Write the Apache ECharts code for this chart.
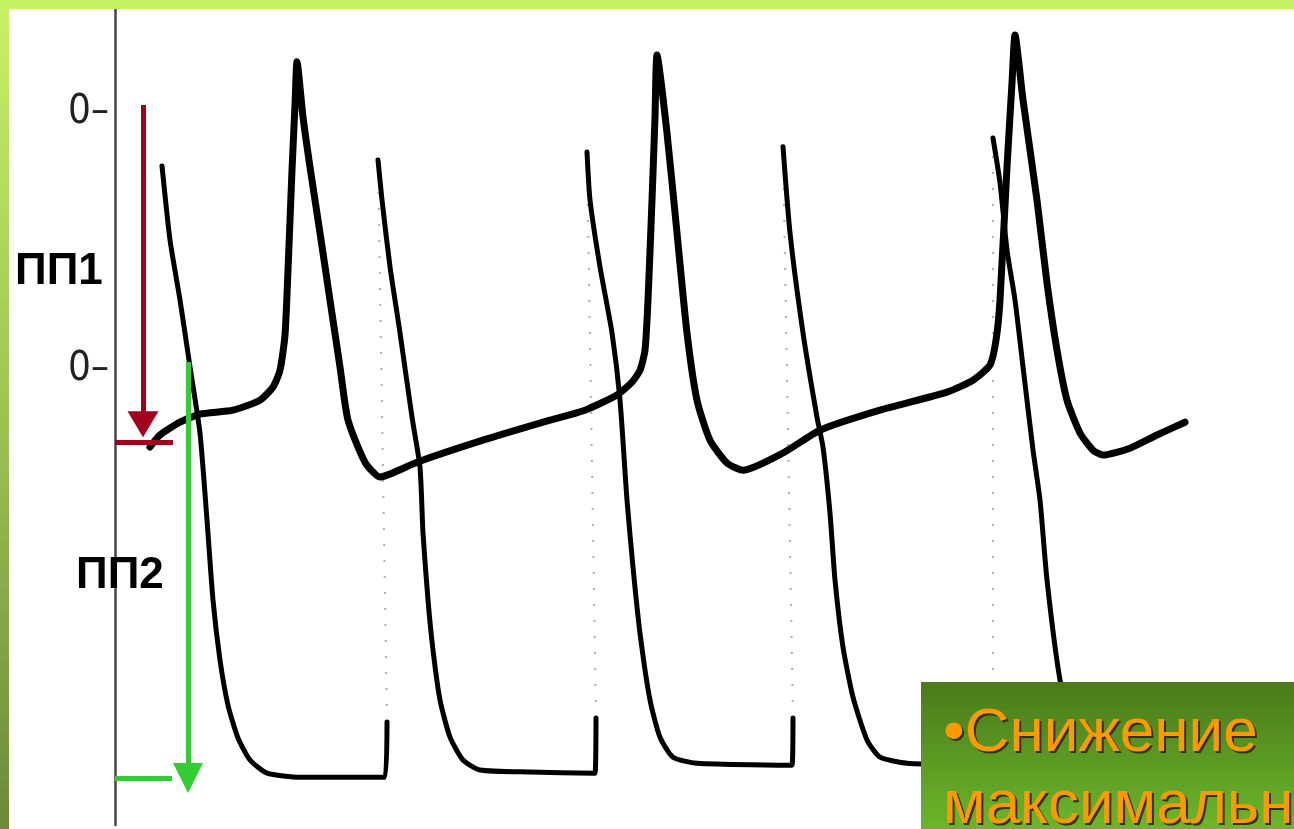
<!DOCTYPE html>
<html>
<head>
<meta charset="utf-8">
<style>
  html, body { margin: 0; padding: 0; background: #fff; }
  #chart { width: 1294px; height: 829px; }
</style>
<script src="https://cdn.jsdelivr.net/npm/echarts@6/dist/echarts.min.js"></script>
</head>
<body>
<div id="chart"></div>
<script>
// x: time (arbitrary units), y: potential, mV (each trace has its own zero)
// trace 1 - upper recording (ПП1)
const trace1 = [
  [35, -83.5], [45, -80.5], [65, -77.3], [85, -75.3], [118, -74.3], [145, -71.8],
  [158, -68.5], [165, -64.3], [170, -55.5], [173, -39.3], [177, -14.3], [180, 2],
  [182, 12.8], [188, -1], [195, -13.5], [205, -30], [215, -46.8], [225, -63.5],
  [233, -76.8], [250, -87.3], [265, -91], [302, -87.3], [368, -81.8], [435, -76.8],
  [470, -74.3], [502, -70.5], [517, -67.3], [525, -64.3], [530, -59.3], [533, -46.8],
  [537, -21.8], [540, -1], [542, 14.5], [552, -5], [562, -30], [572, -55],
  [582, -71.8], [595, -81.8], [612, -87.5], [628, -89.3], [668, -85], [705, -79.3],
  [765, -74.3], [832, -69.8], [858, -66.8], [875, -63], [881, -56.8], [885, -46.8],
  [892, -13.5], [897, 7.5], [900, 19.5], [908, 3.3], [922, -21.8], [932, -42.5],
  [942, -59.3], [952, -71.8], [965, -80], [978, -84.3], [988, -85.5], [1015, -83.8],
  [1042, -80.5], [1070, -77.3]
];

// trace 2 - lower recording (ПП2), one array per beat
const beat1 = [
  [47, 51], [55, 32.5], [65, 17.5], [75, 0.8], [85, -15.8], [92, -37.5], [98, -57.5],
  [105, -72.5], [113, -83.8], [123, -92], [135, -97.5], [152, -100.8], [185, -101.8],
  [270, -101.8], [272, -88]
];
const beat2 = [
  [263, 52.5], [267, 42.5], [275, 25.8], [285, 9.3], [297, -11.8], [305, -24.3],
  [308, -40.8], [313, -57.5], [318, -70], [325, -82.5], [335, -91.8], [348, -97.5],
  [365, -100], [415, -100.5], [480, -100.8], [481, -87]
];
const beat3 = [
  [472, 54.5], [475, 42.5], [485, 25.8], [497, 9.3], [505, -7.5], [512, -32.5],
  [518, -49.3], [525, -65.8], [535, -82.5], [545, -91.8], [558, -96.8], [582, -98.3],
  [677, -98.8], [678, -87]
];
const beat4 = [
  [668, 55.8], [675, 34.3], [688, 9.3], [702, -11.8], [708, -19.3], [715, -35.8],
  [720, -52.5], [728, -69.3], [738, -81.8], [752, -92.5], [765, -96.8], [792, -98.3],
  [876, -98.8], [878, -87]
];
const beat5 = [
  [878, 58], [885, 46.8], [892, 30], [900, 17.5], [908, 0.8], [918, -20], [925, -32.5],
  [932, -52.5], [945, -77.5], [960, -92.5], [980, -98.8], [1065, -100]
];
const beats = [beat1, beat2, beat3, beat4, beat5];

// zero marks on the potential axis
const zeroTicks = [0];
const zeroLabel = '0\u2013';

// resting potential markers: [x, from mV, to mV], baseline [x0, x1, mV]
const pp1Arrow = [28, 2, -77.8];
const pp1Base = [0, 58, -82.3];
const pp2Arrow = [73, 2, -102];
const pp2Base = [0, 57, -102];

const boxText = '\u2022Снижение\nмаксимальной';

const chart = echarts.init(document.getElementById('chart'));

const traceLine = { color: '#000', width: 5, cap: 'round', join: 'round' };

const series = [];
// faint upstrokes between beats
for (let i = 0; i < beats.length - 1; i++) {
  const a = beats[i][beats[i].length - 1];
  const b = beats[i + 1][0];
  series.push({
    type: 'line', yAxisIndex: 0, symbol: 'none', silent: true, z: 1,
    data: [a, b],
    lineStyle: { color: '#b0b0b0', width: 2, type: [2, 14] }
  });
}
beats.forEach(function (b) {
  series.push({
    type: 'line', yAxisIndex: 0, symbol: 'none', silent: true, smooth: 0.2, z: 3,
    data: b,
    lineStyle: traceLine
  });
});
series.push({
  type: 'line', yAxisIndex: 1, symbol: 'none', silent: true, smooth: 0.2, z: 3,
  data: trace1,
  lineStyle: { color: '#000', width: 7, cap: 'round', join: 'round' }
});
// annotations
series.push({
  type: 'line', yAxisIndex: 1, data: [], z: 4,
  markLine: {
    silent: true, animation: false,
    symbol: ['none', 'triangle'], symbolSize: [31, 26],
    label: { show: false },
    lineStyle: { color: '#a3001f', width: 5, type: 'solid' },
    data: [
      [{ coord: [pp1Arrow[0], pp1Arrow[1]] }, { coord: [pp1Arrow[0], pp1Arrow[2]] }],
      [{ coord: [pp1Base[0], pp1Base[2]], symbol: 'none' }, { coord: [pp1Base[1], pp1Base[2]], symbol: 'none' }]
    ]
  }
});
series.push({
  type: 'line', yAxisIndex: 0, data: [], z: 4,
  markLine: {
    silent: true, animation: false,
    symbol: ['none', 'triangle'], symbolSize: [30, 30],
    label: { show: false },
    lineStyle: { color: '#33cc33', width: 5, type: 'solid' },
    data: [
      [{ coord: [pp2Arrow[0], pp2Arrow[1]] }, { coord: [pp2Arrow[0], pp2Arrow[2]] }],
      [{ coord: [pp2Base[0], pp2Base[2]], symbol: 'none' }, { coord: [pp2Base[1], pp2Base[2]], symbol: 'none' }]
    ]
  }
});

const zeroAxisLabel = {
  customValues: zeroTicks,
  formatter: function (v) { return v === 0 ? zeroLabel : ''; },
  color: '#222',
  fontSize: 40,
  fontFamily: '"Liberation Sans Narrow", "DejaVu Sans Condensed", "Liberation Sans", sans-serif',
  margin: 6
};

chart.setOption({
  animation: false,
  backgroundColor: '#fff',
  grid: { left: 115, right: 0, top: 9, bottom: 4 },
  xAxis: { type: 'value', min: 0, max: 1179, show: false },
  yAxis: [
    {
      type: 'value', min: -113.75, max: 90.25,
      axisLine: { show: true, lineStyle: { color: '#444', width: 2.5 } },
      axisTick: { show: false },
      splitLine: { show: false },
      axisLabel: zeroAxisLabel
    },
    {
      type: 'value', position: 'left', min: -178, max: 26,
      axisLine: { show: false },
      axisTick: { show: false },
      splitLine: { show: false },
      axisLabel: zeroAxisLabel
    }
  ],
  series: series,
  graphic: [
    { type: 'rect', z: 100, shape: { x: 0, y: 0, width: 1294, height: 9 }, style: { fill: '#c6f266' } },
    {
      type: 'rect', z: 100, shape: { x: 0, y: 0, width: 9, height: 829 },
      style: {
        fill: new echarts.graphic.LinearGradient(0, 0, 0, 1, [
          { offset: 0, color: '#c6f266' },
          { offset: 0.5, color: '#9cc452' },
          { offset: 1, color: '#6b8a3a' }
        ])
      }
    },
    {
      type: 'text', z: 100, left: 15, top: 250,
      style: { text: 'ПП1', fill: '#000', font: 'bold 44px "Liberation Sans", Arial, sans-serif' }
    },
    {
      type: 'text', z: 100, left: 76, top: 554,
      style: { text: 'ПП2', fill: '#000', font: 'bold 44px "Liberation Sans", Arial, sans-serif' }
    },
    {
      type: 'group', z: 100, left: 921, top: 682,
      children: [
        {
          type: 'rect', z: 100, shape: { x: 0, y: 0, width: 373, height: 147 },
          style: {
            fill: new echarts.graphic.LinearGradient(0, 0, 0, 1, [
              { offset: 0, color: '#4a7a1b' },
              { offset: 1, color: '#6cb62a' }
            ])
          }
        },
        {
          type: 'text', z: 101, x: 24, y: 18,
          style: {
            text: boxText, fill: '#2a3510', lineHeight: 72,
            font: '62px "Liberation Sans", Arial, sans-serif'
          }
        },
        {
          type: 'text', z: 102, x: 22, y: 16,
          style: {
            text: boxText, fill: '#ff9900', lineHeight: 72,
            font: '62px "Liberation Sans", Arial, sans-serif'
          }
        }
      ]
    }
  ]
});
</script>
</body>
</html>
